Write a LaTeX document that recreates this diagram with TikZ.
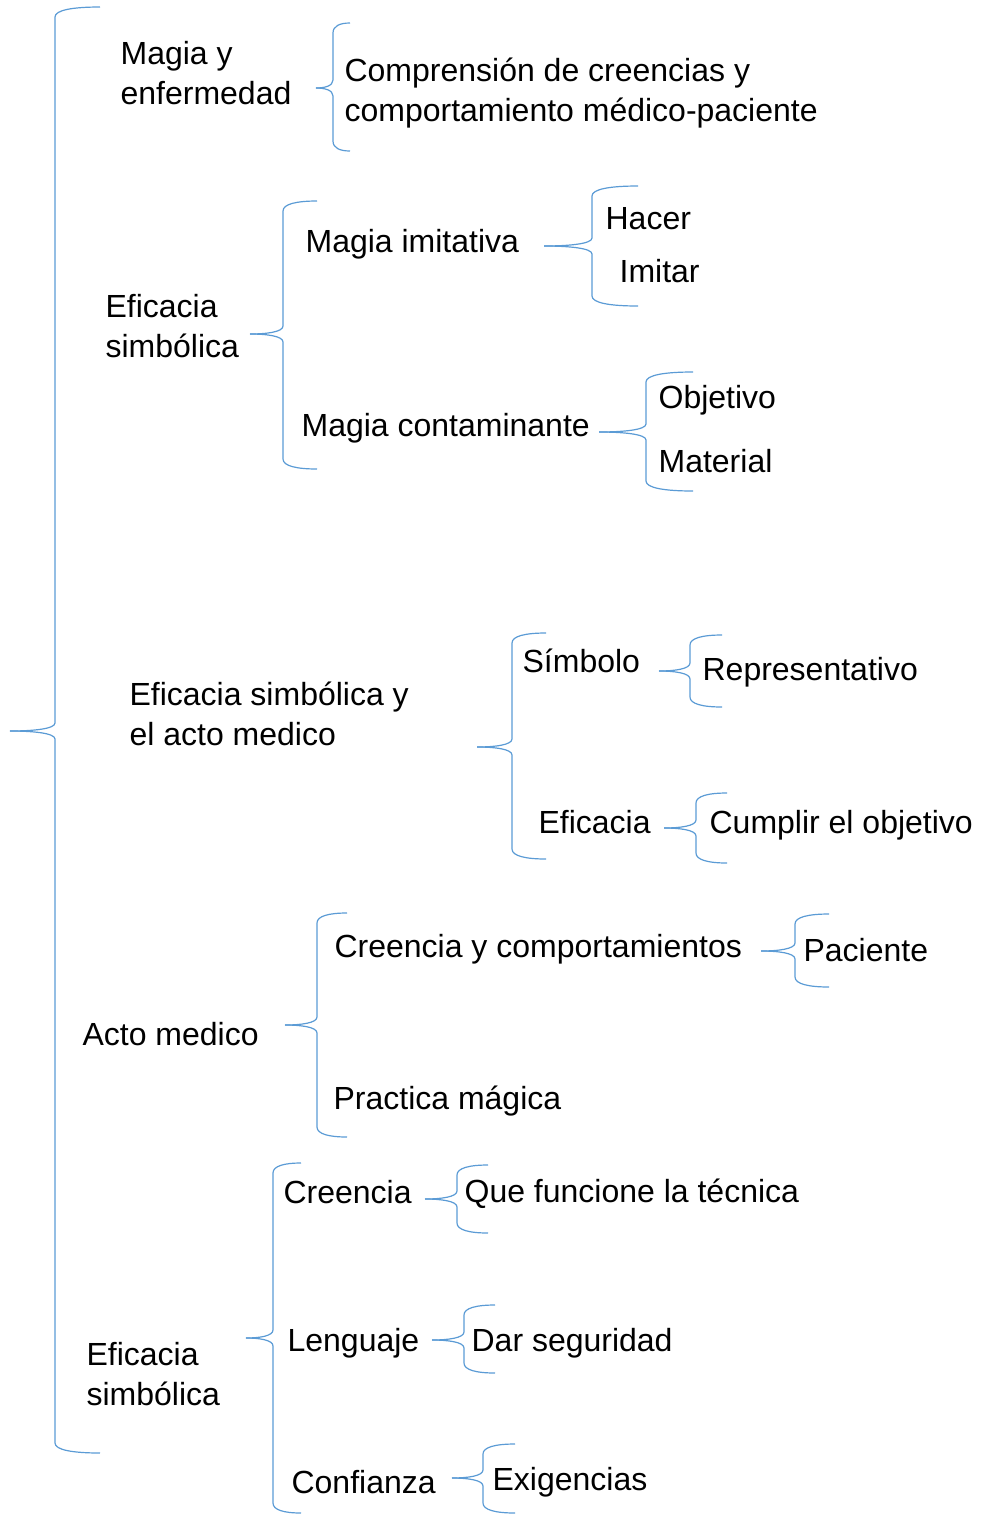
\documentclass[tikz,border=0pt]{standalone}
\usepackage{fontspec}
\setmainfont{Liberation Sans}
\definecolor{bracecol}{RGB}{91,155,213}
\tikzset{every picture/.style={line width=1.2pt}}
\tikzset{
  lbl/.style={anchor=base west, inner sep=0pt, align=left, font=\fontsize{32}{40}\selectfont},
  wordbrace/.style={draw=bracecol, line width=1.2pt}
}
% tip x, line x, end x, top y, tip y, bottom y
\newcommand{\wbrace}[6]{%
  \draw[wordbrace] (#3,#4) .. controls (#2+0.4*#3-0.4*#2,#4) and (#2,#4+3) .. (#2,#4+10)
    -- (#2,#5-8) .. controls (#2,#5-2) and (0.5*#1+0.5*#2,#5) .. (#1,#5);
  \draw[wordbrace] (#1,#5) .. controls (0.5*#1+0.5*#2,#5) and (#2,#5+2) .. (#2,#5+8)
    -- (#2,#6-10) .. controls (#2,#6-3) and (#2+0.4*#3-0.4*#2,#6) .. (#3,#6);}

\begin{document}
\begin{tikzpicture}[x=1pt,y=1pt,yscale=-1,xscale=1]
\useasboundingbox (0,0) rectangle (983,1519);

%Braces
\wbrace{10}{55}{100}{7}{731}{1453}
\wbrace{316}{333}{350}{23}{88}{151}
\wbrace{250}{283}{317}{201}{334}{469}
\wbrace{544}{592}{638}{186}{246}{306}
\wbrace{599}{646}{693}{372}{432}{491}
\wbrace{477}{512}{546}{633}{747}{859}
\wbrace{659}{690}{722}{635}{671}{707}
\wbrace{664}{696}{727}{793}{828}{863}
\wbrace{285}{317}{347}{913}{1025}{1137}
\wbrace{761}{795}{829}{914}{951}{987}
\wbrace{246}{273}{301}{1163}{1338}{1513}
\wbrace{425}{457}{488}{1165}{1199}{1233}
\wbrace{432}{464}{495}{1305}{1340}{1373}
\wbrace{452}{483}{515}{1444}{1478}{1513}

% Text Node (two lines: base is the second line)
\node[lbl] (magia) at (120,104) {Magia y\\enfermedad};
\node[lbl] (comprension) at (344,121) {Comprensión de creencias y\\comportamiento médico-paciente};
% Text Node
\node[lbl] (eficacia) at (105,357) {Eficacia\\simbólica};
\node[lbl] (imitativa) at (305,252) {Magia imitativa};
\node[lbl] (hacer) at (605,229) {Hacer};
\node[lbl] (imitar) at (619,282) {Imitar};
\node[lbl] (contaminante) at (301,436) {Magia contaminante};
\node[lbl] (objetivo) at (658,408) {Objetivo};
\node[lbl] (material) at (658,472) {Material};
% Text Node
\node[lbl] (actomed) at (129,745) {Eficacia simbólica y\\el acto medico};
\node[lbl] (simbolo) at (522,672) {Símbolo};
\node[lbl] (representativo) at (702,680) {Representativo};
\node[lbl] (eficaciab) at (538,833) {Eficacia};
\node[lbl] (cumplir) at (709,833) {Cumplir el objetivo};
% Text Node
\node[lbl] (acto) at (82,1045) {Acto medico};
\node[lbl] (creencias) at (334,957) {Creencia y comportamientos};
\node[lbl] (paciente) at (803,961) {Paciente};
\node[lbl] (practica) at (333,1109) {Practica mágica};
% Text Node
\node[lbl] (eficaciac) at (86,1405) {Eficacia\\simbólica};
\node[lbl] (creencia) at (283,1203) {Creencia};
\node[lbl] (tecnica) at (464,1202) {Que funcione la técnica};
\node[lbl] (lenguaje) at (287,1351) {Lenguaje};
\node[lbl] (seguridad) at (471,1351) {Dar seguridad};
\node[lbl] (confianza) at (291,1493) {Confianza};
\node[lbl] (exigencias) at (492,1490) {Exigencias};

\end{tikzpicture}
\end{document}
